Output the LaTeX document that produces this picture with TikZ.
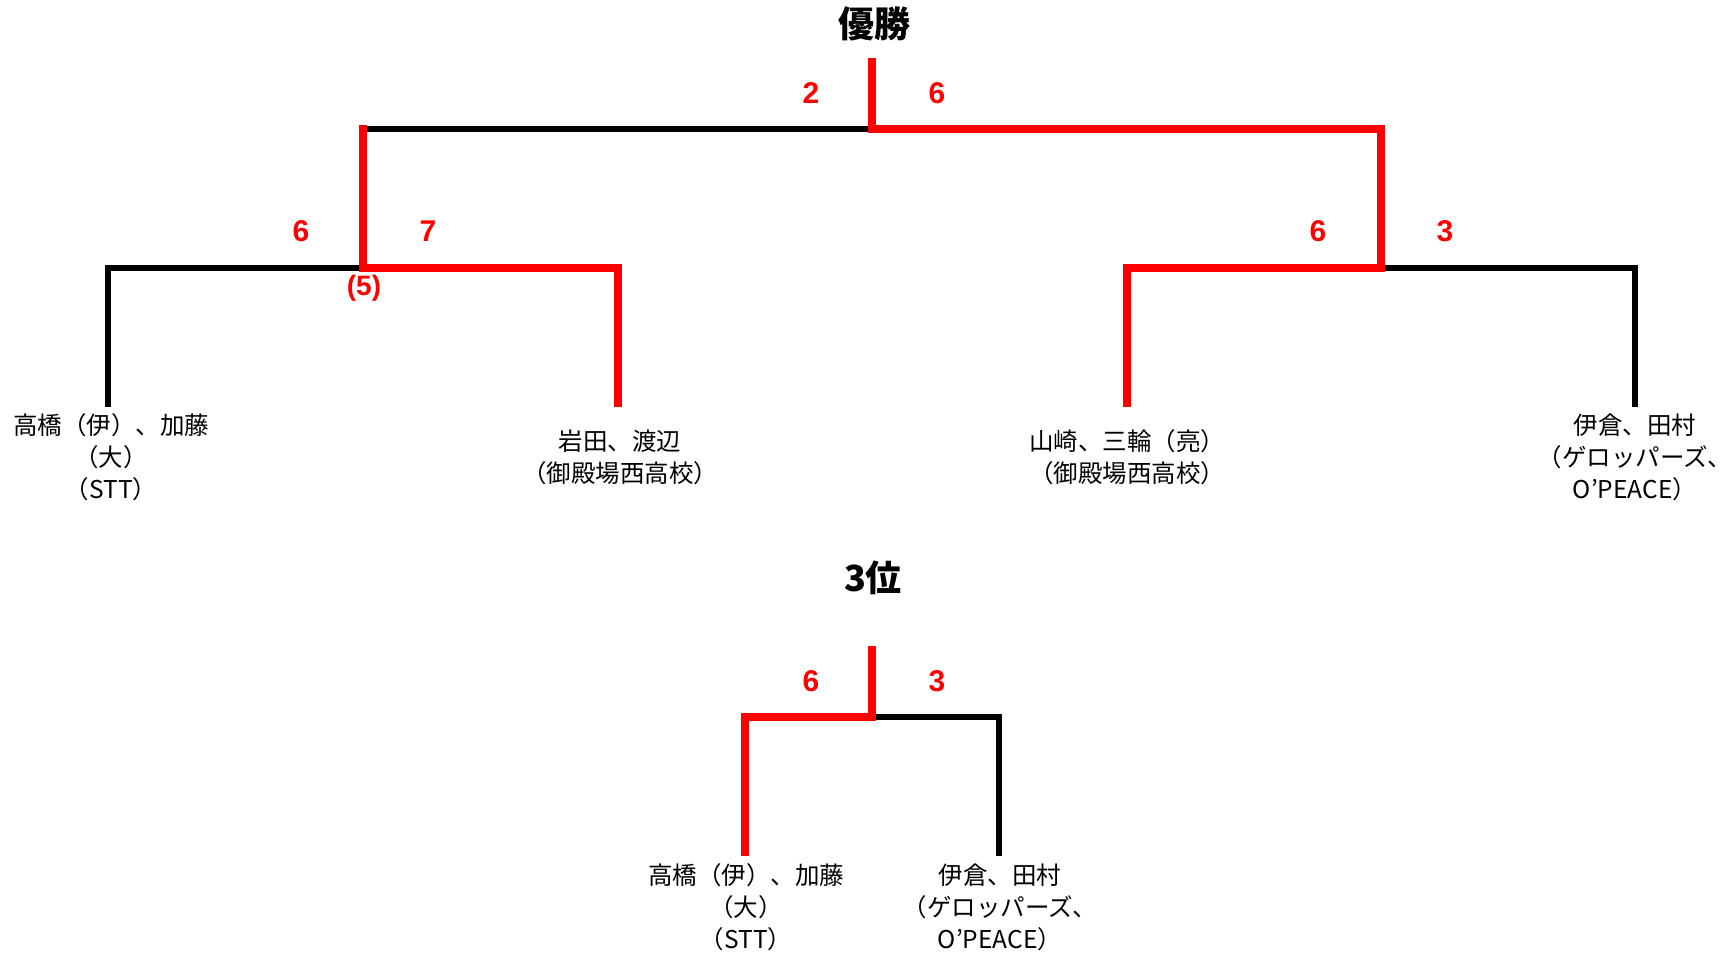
\documentclass[tikz,border=0pt]{standalone}
\usepackage{fontspec}
\setmainfont{Noto Sans CJK JP}
\newfontfamily\numfont{Liberation Sans}
\begin{document}
\begin{tikzpicture}[x=1pt,y=-1pt,
  blk/.style={line width=6pt, black, line join=miter},
  rd/.style={line width=8pt, red, line join=miter},
  playername/.style={align=center, inner sep=0pt, font=\fontsize{24.5}{32}\selectfont},
  scorelabel/.style={text=red, inner sep=0pt, font=\numfont\bfseries\fontsize{30}{30}\selectfont},
  subscore/.style={text=red, inner sep=0pt, font=\numfont\bfseries\fontsize{28}{28}\selectfont},
  ttl/.style={inner sep=0pt, font=\bfseries\fontsize{36}{36}\selectfont}]
\useasboundingbox (0,0) rectangle (1736,954);
% titles
\node[ttl] (t1) at (874,24) {優勝};
\node[ttl] (t2) at (873,578) {3位};
% main bracket coordinates
\coordinate (top) at (872,58);
\coordinate (tj) at (872,129);
\coordinate (tl) at (363,129);
\coordinate (tr) at (1381,129);
\coordinate (lj) at (363,268);
\coordinate (rj) at (1381,268);
\coordinate (a1) at (108,268);
\coordinate (a2) at (108,407);
\coordinate (b1) at (618,268);
\coordinate (b2) at (618,407);
\coordinate (c1) at (1127,268);
\coordinate (c2) at (1127,407);
\coordinate (d1) at (1635,268);
\coordinate (d2) at (1635,407);
% third place coordinates
\coordinate (top3) at (872,646);
\coordinate (j3) at (872,717);
\coordinate (e1) at (745,717);
\coordinate (e2) at (745,856);
\coordinate (f1) at (999,717);
\coordinate (f2) at (999,856);
% black lines
\draw[blk] (a2) -- (a1) -- (lj);
\draw[blk] (tl) -- (tj);
\draw[blk] (rj) -- (d1) -- (d2);
\draw[blk] (j3) -- (f1) -- (f2);
% red lines
\draw[rd, shorten <=-4pt] (tl) -- (lj) -- (b1) -- (b2);
\draw[rd] (top) -- (tj) -- (tr) -- (rj) -- (c1) -- (c2);
\draw[rd] (top3) -- (j3) -- (e1) -- (e2);
% scores
\node[scorelabel] (s1) at (811,93) {2};
\node[scorelabel] (s2) at (937,93) {6};
\node[scorelabel] (s3) at (301,231) {6};
\node[scorelabel] (s4) at (428,231) {7};
\node[subscore] (s5) at (364,288) {(5)};
\node[scorelabel] (s6) at (1318,231) {6};
\node[scorelabel] (s7) at (1445,231) {3};
\node[scorelabel] (s8) at (811,681) {6};
\node[scorelabel] (s9) at (937,681) {3};
% names
\node[playername] (n1) at (111,457) {高橋（伊）、加藤\\（大）\\（STT）};
\node[playername] (n2) at (620,457) {岩田、渡辺\\（御殿場西高校）};
\node[playername] (n3) at (1127,457) {山崎、三輪（亮）\\（御殿場西高校）};
\node[playername] (n4) at (1635,457) {伊倉、田村\\（ゲロッパーズ、\\O’PEACE）};
\node[playername] (n5) at (746,907) {高橋（伊）、加藤\\（大）\\（STT）};
\node[playername] (n6) at (1000,907) {伊倉、田村\\（ゲロッパーズ、\\O’PEACE）};
\end{tikzpicture}
\end{document}
